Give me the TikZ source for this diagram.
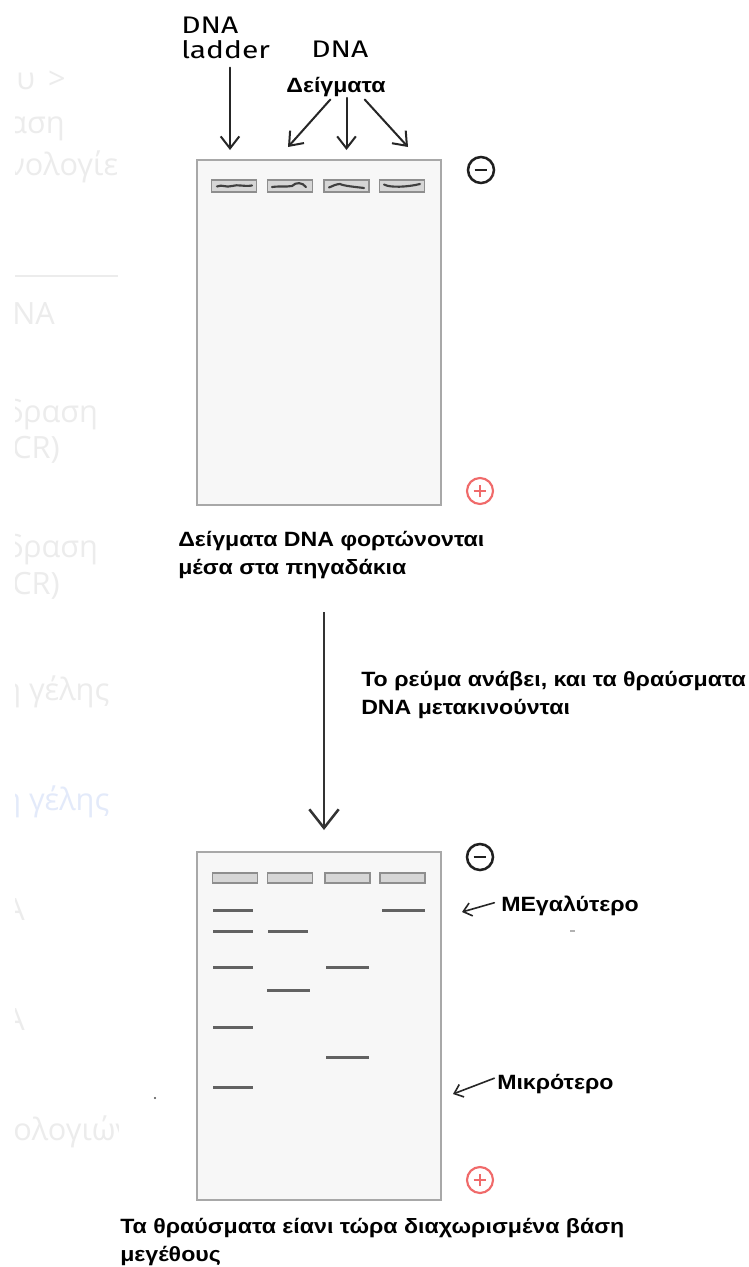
\documentclass[tikz,border=0pt]{standalone}
\usepackage{fontspec}
\setmainfont{Liberation Sans}
\newfontfamily\labelfont{Liberation Sans}[FakeStretch=1.12]
\newfontfamily\handfont{Fira Sans}[FakeStretch=1.25]
\newfontfamily\sidefont{Open Sans}
\usetikzlibrary{arrows.meta}
\definecolor{gelfill}{HTML}{F7F7F7}
\definecolor{gelline}{HTML}{A8A8A8}
\definecolor{wellfill}{HTML}{D6D6D6}
\definecolor{wellline}{HTML}{8E8E8E}
\definecolor{bandcol}{HTML}{626262}
\definecolor{pluscol}{HTML}{F06A6A}
\definecolor{sidegray}{HTML}{ECECEC}
\definecolor{sideblue}{HTML}{E3EAFA}
\begin{document}
\begin{tikzpicture}[x=0.75pt,y=-0.75pt,
  gel/.style={draw=gelline,fill=gelfill,line width=1.5pt},
  well/.style={draw=wellline,fill=wellfill,line width=1.2pt,minimum width=33.75pt,inner sep=0pt},
  band/.style={draw=bandcol,line width=2.25pt},
  sample/.style={draw=black!75,line width=1.6pt,line cap=round},
  label/.style={inner sep=0pt,font=\labelfont\fontsize{15.5}{21}\selectfont\bfseries,align=left},
  hand/.style={inner sep=0pt,font=\handfont\fontsize{18}{18.75}\selectfont,align=left},
  harrow/.style={draw=black!85,line width=1.5pt,line cap=round,-{Straight Barb[length=9pt,width=14pt,line width=1.5pt]}},
  sarrow/.style={draw=black!85,line width=1.2pt,line cap=round,-{Straight Barb[length=6pt,width=10pt,line width=1.2pt]}},
  bigarrow/.style={draw=black!80,line width=1.9pt,-{Straight Barb[length=14pt,width=22pt,line width=1.9pt]}},
  minuscirc/.style={draw=black!88,line width=1.9pt,circle,minimum size=19.5pt,inner sep=0pt},
  pluscirc/.style={draw=pluscol,line width=1.6pt,circle,minimum size=19.5pt,inner sep=0pt},
  side/.style={inner sep=0pt,anchor=base west,font=\sidefont\fontsize{23}{26}\selectfont,text=sidegray}]
\useasboundingbox[fill=white] (0,0) rectangle (749,1267);

% faint navigation column at the left edge
\begin{scope}
  \clip (15,0) rectangle (118,1267);
  \node[side] (n1) at (16,89) {υ \,>};
  \node[side] (n2) at (8,133) {αση};
  \node[side] (n3) at (8,175) {νολογίες};
  \draw[sidegray,line width=0.8pt] (15,276) -- (118,276);
  \node[side] (n4) at (12,324) {NA};
  \node[side] (n5) at (5,422) {δραση};
  \node[side] (n6) at (12,458) {CR)};
  \node[side] (n7) at (5,557) {δραση};
  \node[side] (n8) at (12,594) {CR)};
  \node[side] (n9) at (2,700) {ή γέλης};
  \node[side,text=sideblue] (n10) at (2,810) {ή γέλης};
  \node[side] (n11) at (5,920) {A};
  \node[side] (n12) at (5,1030) {A};
  \node[side] (n13) at (13,1140) {ολογιών};
\end{scope}

% ---------- loading step ----------
\node[hand,anchor=base west] (lad) at (181,58) {DNA\\ladder};
\node[hand,anchor=base west] (dna) at (311,57) {DNA};
\node[label,anchor=base] (samp) at (336,92) {Δείγματα};

\node[gel,minimum width=183pt,minimum height=258.75pt,inner sep=0pt] (gel1) at (319,332.5) {};

\node[well,minimum height=9pt] (w1) at (234,186) {};
\node[well,minimum height=9pt] (w2) at (290,186) {};
\node[well,minimum height=9pt] (w3) at (346.5,186) {};
\node[well,minimum height=9pt] (w4) at (402,186) {};

% loaded samples inside the wells
\draw[sample] (217,186.5) .. controls (222,184) and (226,188) .. (232,186) .. controls (238,184) and (244,187) .. (252,185.5);
\draw[sample] (272,187) .. controls (280,186) and (286,187) .. (292,186) .. controls (296,182) and (302,182) .. (306,187);
\draw[sample] (329,187.5) .. controls (333,186) and (336,184) .. (340,184) .. controls (344,186) and (356,187) .. (364,188);
\draw[sample] (384,184.5) .. controls (390,188) and (408,187) .. (420,184);

\coordinate (t1) at (230,150);
\coordinate (t2) at (288,147);
\coordinate (t3) at (346.5,150);
\coordinate (t4) at (408,147);
\draw[harrow] (lad.south -| t1) ++(0,9) -- (t1);
\draw[harrow,shorten <=3pt] (samp.south -| 333,0) -- (t2);
\draw[harrow,shorten <=1pt] (samp.south -| t3) -- (t3);
\draw[harrow,shorten <=3pt] (samp.south -| 362,0) -- (t4);

\node[minuscirc] (m1) at (481,170) {};
\draw[black!88,line width=1.9pt] ([xshift=-4.8pt]m1.center) -- ([xshift=4.8pt]m1.center);
\node[pluscirc] (p1) at (480,491) {};
\draw[pluscol,line width=1.6pt] ([xshift=-4.8pt]p1.center) -- ([xshift=4.8pt]p1.center)
  ([yshift=-4.8pt]p1.center) -- ([yshift=4.8pt]p1.center);

\node[label,anchor=base west] (cap1) at (178,574) {Δείγματα DNA φορτώνονται\\μέσα στα πηγαδάκια};

% ---------- running step ----------
\coordinate (runtop) at (324,612);
\coordinate (runbot) at (324,830);
\draw[bigarrow] (runtop) -- (runbot);
\node[label,anchor=base west] (cap2) at (361,714) {Το ρεύμα ανάβει, και τα θραύσματα\\DNA μετακινούνται};

\node[gel,minimum width=183pt,minimum height=261pt,inner sep=0pt] (gel2) at (319,1026) {};

\node[well,minimum height=7.5pt] (v1) at (235,878) {};
\node[well,minimum height=7.5pt] (v2) at (290,878) {};
\node[well,minimum height=7.5pt] (v3) at (347.5,878) {};
\node[well,minimum height=7.5pt] (v4) at (402.5,878) {};

% separated fragments
\draw[band] (213,910) -- (253,910);
\draw[band] (213,931) -- (253,931);
\draw[band] (213,967) -- (253,967);
\draw[band] (213,1027) -- (253,1027);
\draw[band] (213,1087) -- (253,1087);
\draw[band] (268,931) -- (308,931);
\draw[band] (267,990) -- (310,990);
\draw[band] (326,967) -- (369,967);
\draw[band] (326,1057) -- (369,1057);
\draw[band] (382,910) -- (425,910);

\node[minuscirc] (m2) at (480,857) {};
\draw[black!88,line width=1.9pt] ([xshift=-4.8pt]m2.center) -- ([xshift=4.8pt]m2.center);
\node[pluscirc] (p2) at (480,1180) {};
\draw[pluscol,line width=1.6pt] ([xshift=-4.8pt]p2.center) -- ([xshift=4.8pt]p2.center)
  ([yshift=-4.8pt]p2.center) -- ([yshift=4.8pt]p2.center);

\node[label,anchor=base west] (big) at (501,911) {ΜΕγαλύτερο};
\node[label,anchor=base west] (small) at (497,1089) {Μικρότερο};
\coordinate (bigtip) at (462,912);
\coordinate (smalltip) at (453,1094);
\draw[sarrow] ([xshift=-5pt,yshift=2pt]big.west) -- (bigtip);
\draw[sarrow] ([xshift=-2pt,yshift=4pt]small.west) -- (smalltip);

\draw[black!30,line width=0.9pt] (570,931) -- (575,931);
\fill[black!70] (155,1098) circle (1.2);

\node[label,anchor=base west] (cap3) at (120,1261) {Τα θραύσματα είανι τώρα διαχωρισμένα βάση\\μεγέθους};
\end{tikzpicture}
\end{document}
